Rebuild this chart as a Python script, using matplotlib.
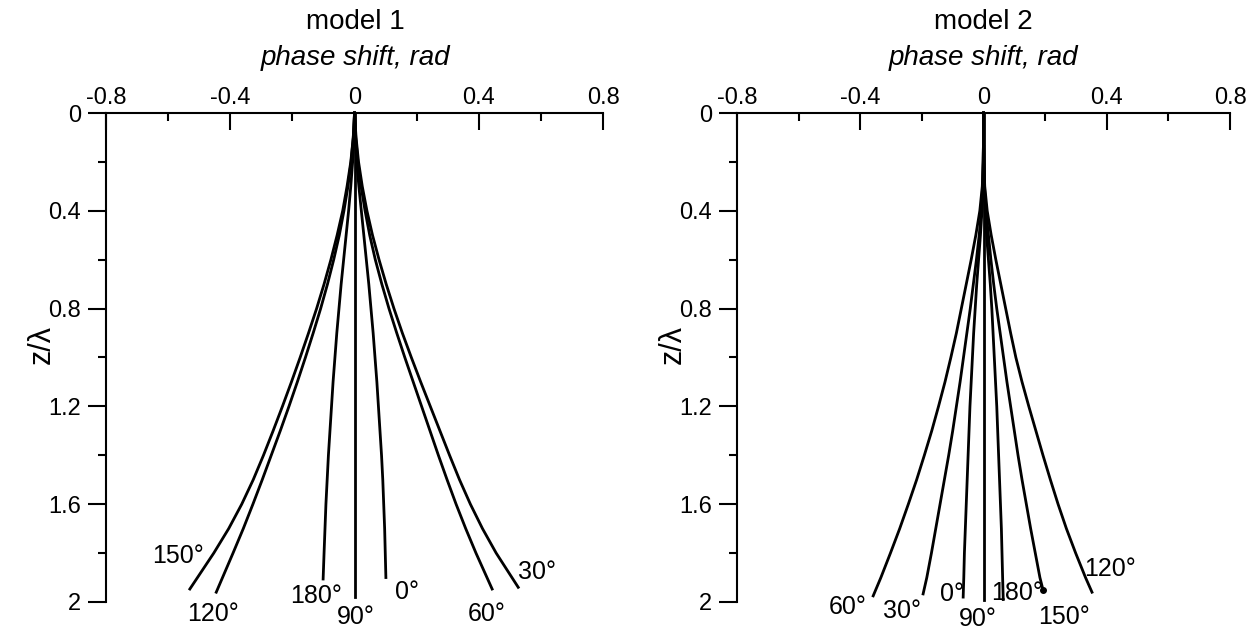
import numpy as np
import matplotlib.pyplot as plt
from matplotlib.ticker import MultipleLocator

plt.rcParams['font.family'] = ['Liberation Sans', 'DejaVu Sans']

# model 1: depth z/lambda and phase shift (rad) for each angle (last value = curve end)
m1_y = [0, 0.1, 0.2, 0.3, 0.4, 0.5, 0.6, 0.7, 0.8, 0.9, 1.0,
        1.1, 1.2, 1.3, 1.4, 1.5, 1.6, 1.7, 1.8]
m1_150 = [0, -0.004, -0.012, -0.024, -0.038, -0.056, -0.076, -0.098, -0.122, -0.148, -0.175,
          -0.203, -0.232, -0.262, -0.293, -0.326, -0.363, -0.405, -0.453, -0.530]
m1_120 = [0, -0.004, -0.011, -0.021, -0.034, -0.049, -0.067, -0.087, -0.109, -0.133, -0.158,
          -0.184, -0.211, -0.239, -0.268, -0.297, -0.327, -0.358, -0.391, -0.445]
m1_180 = [0, -0.002, -0.006, -0.012, -0.019, -0.027, -0.035, -0.043, -0.050, -0.057, -0.063,
          -0.069, -0.074, -0.079, -0.084, -0.088, -0.092, -0.095, -0.098, -0.101]
m1_90 = [0] * 20
m1_0 = [0, 0.002, 0.007, 0.014, 0.022, 0.030, 0.038, 0.046, 0.053, 0.060, 0.066,
        0.072, 0.077, 0.082, 0.087, 0.091, 0.094, 0.097, 0.099, 0.101]
m1_60 = [0, 0.004, 0.011, 0.021, 0.034, 0.049, 0.067, 0.088, 0.111, 0.136, 0.162,
         0.189, 0.216, 0.243, 0.270, 0.298, 0.327, 0.358, 0.391, 0.443]
m1_30 = [0, 0.005, 0.013, 0.025, 0.040, 0.058, 0.079, 0.102, 0.127, 0.154, 0.183,
         0.213, 0.244, 0.275, 0.306, 0.338, 0.373, 0.412, 0.456, 0.527]
m1_end = {'150': 1.947, '120': 1.96, '180': 1.906, '90': 1.98, '0': 1.90, '60': 1.947, '30': 1.94}

# model 2
m2_y = [0, 0.1, 0.2, 0.3, 0.4, 0.5, 0.6, 0.7, 0.8, 0.9, 1.0,
        1.1, 1.2, 1.3, 1.4, 1.5, 1.6, 1.7, 1.8, 1.9]
m2_60 = [0, 0, -0.001, -0.004, -0.012, -0.025, -0.040, -0.056, -0.072, -0.088, -0.106,
         -0.125, -0.146, -0.168, -0.192, -0.217, -0.244, -0.272, -0.302, -0.333, -0.358]
m2_30 = [0, 0, -0.001, -0.003, -0.007, -0.014, -0.023, -0.033, -0.043, -0.054, -0.065,
         -0.076, -0.088, -0.100, -0.113, -0.127, -0.141, -0.155, -0.169, -0.184, -0.196]
m2_0 = [0, 0, -0.001, -0.002, -0.005, -0.010, -0.016, -0.022, -0.027, -0.032, -0.036,
        -0.040, -0.044, -0.047, -0.050, -0.053, -0.056, -0.059, -0.062, -0.064, -0.066]
m2_90 = [0] * 21
m2_180 = [0, 0, 0.001, 0.002, 0.005, 0.010, 0.016, 0.022, 0.027, 0.031, 0.035,
          0.039, 0.043, 0.046, 0.049, 0.052, 0.055, 0.058, 0.060, 0.062, 0.064]
m2_150 = [0, 0, 0.001, 0.003, 0.008, 0.016, 0.024, 0.033, 0.043, 0.054, 0.065,
          0.076, 0.088, 0.100, 0.112, 0.125, 0.139, 0.153, 0.168, 0.183, 0.193]
m2_120 = [0, 0, 0.001, 0.004, 0.012, 0.025, 0.040, 0.056, 0.072, 0.088, 0.105,
          0.125, 0.147, 0.170, 0.193, 0.217, 0.242, 0.269, 0.299, 0.331, 0.352]
m2_end = {'60': 1.975, '30': 1.967, '0': 1.98, '90': 1.99, '180': 1.99, '150': 1.95, '120': 1.96}

# label positions (phase shift, z/lambda)
m1_lab = {'150': (-0.568, 1.81), '120': (-0.454, 2.05), '180': (-0.124, 1.975),
          '90': (0.005, 2.063), '0': (0.168, 1.96), '60': (0.427, 2.05), '30': (0.587, 1.876)}
m2_lab = {'60': (-0.441, 2.019), '30': (-0.265, 2.036), '0': (-0.102, 1.967),
          '90': (-0.019, 2.07), '180': (0.108, 1.963), '150': (0.262, 2.06), '120': (0.411, 1.865)}

m1_curves = {'150': m1_150, '120': m1_120, '180': m1_180, '90': m1_90,
             '0': m1_0, '60': m1_60, '30': m1_30}
m2_curves = {'60': m2_60, '30': m2_30, '0': m2_0, '90': m2_90,
             '180': m2_180, '150': m2_150, '120': m2_120}

fig = plt.figure(figsize=(12.54, 6.31), dpi=100)
ax1 = fig.add_axes([0.0845, 0.046, 0.3964, 0.7749])
ax2 = fig.add_axes([0.5877, 0.046, 0.3932, 0.7749])


def style(ax):
    ax.set_xlim(-0.8, 0.8)
    ax.set_ylim(2, 0)
    for s in ['right', 'bottom']:
        ax.spines[s].set_visible(False)
    for s in ['top', 'left']:
        ax.spines[s].set_linewidth(1.5)
    ax.xaxis.tick_top()
    ax.xaxis.set_minor_locator(MultipleLocator(0.2))
    ax.yaxis.set_minor_locator(MultipleLocator(0.2))
    ax.set_xticks([-0.8, -0.4, 0, 0.4, 0.8], ['-0.8', '-0.4', '0', '0.4', '0.8'])
    ax.set_yticks([0, 0.4, 0.8, 1.2, 1.6, 2], ['0', '0.4', '0.8', '1.2', '1.6', '2'])
    ax.tick_params(axis='x', which='both', direction='in', top=True, bottom=False,
                   width=1.5, labelsize=17, pad=3)
    ax.tick_params(axis='x', which='major', length=12)
    ax.tick_params(axis='x', which='minor', length=6)
    ax.tick_params(axis='y', which='both', direction='out', width=1.5, labelsize=17, pad=5)
    ax.tick_params(axis='y', which='major', length=13)
    ax.tick_params(axis='y', which='minor', length=6)
    ax.set_ylabel('z/λ', fontsize=22)
    ax.yaxis.set_label_coords(-0.1, 0.526)


for ax, ys, curves, ends, labs in [(ax1, m1_y, m1_curves, m1_end, m1_lab),
                                   (ax2, m2_y, m2_curves, m2_end, m2_lab)]:
    style(ax)
    for k, xs in curves.items():
        ax.plot(xs, ys + [ends[k]], color='black', lw=2.0, clip_on=False)
        lx, ly = labs[k]
        ax.text(lx, ly, k + '°', fontsize=18, ha='center', va='center', clip_on=False)

ax2.plot(m2_150[-1], m2_end['150'], 'o', color='black', ms=4, clip_on=False)

for xc, name in [(0.2835, 'model 1'), (0.784, 'model 2')]:
    fig.text(xc, 1 - 22 / 631, name, fontsize=20, ha='center', va='center')
    fig.text(xc, 1 - 58 / 631, 'phase shift, rad', fontsize=20, style='italic',
             ha='center', va='center')

fig.savefig('out.png', dpi=100)
